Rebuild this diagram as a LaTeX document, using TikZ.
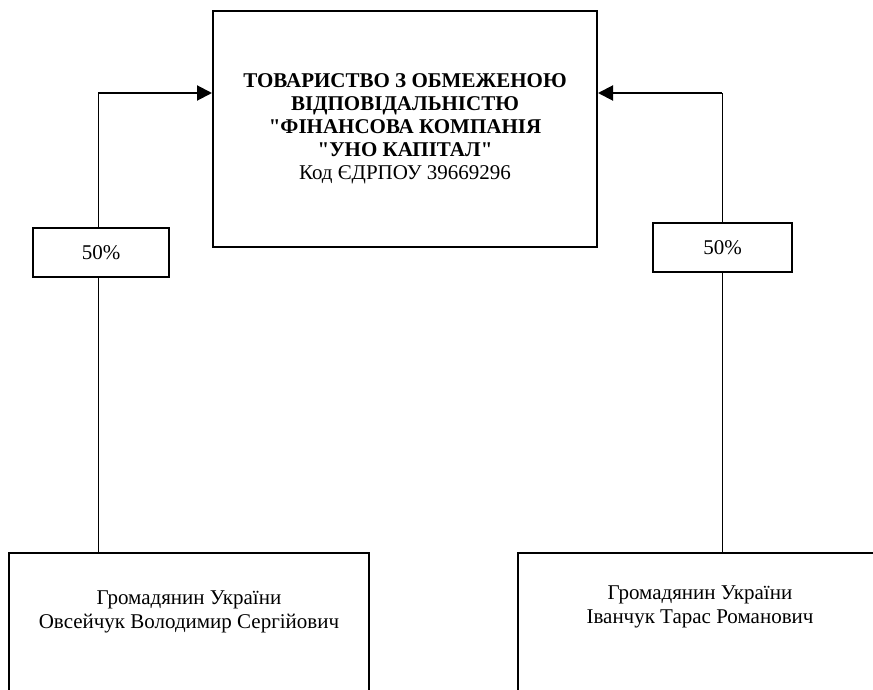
\documentclass[tikz,border=0pt]{standalone}
\usepackage{fontspec}
\setmainfont{Liberation Serif}[Ligatures=TeXOff]
\usetikzlibrary{arrows.meta}
\begin{document}
\begin{tikzpicture}[x=1pt,y=-1pt,
  box/.style={draw,line width=2pt,rectangle,inner sep=0pt,align=center,font=\fontsize{21}{24}\selectfont},
  conn/.style={line width=0.9pt},
  arr/.style={line width=2pt,-{Triangle[length=15pt,width=15pt]}}]
\useasboundingbox (0,0) rectangle (873,690);
\node[box,minimum width=384pt,minimum height=236pt,font=\fontsize{21}{23}\selectfont] (main) at (405,129)
  {\textbf{ТОВАРИСТВО З ОБМЕЖЕНОЮ}\\ \textbf{ВІДПОВІДАЛЬНІСТЮ}\\ \textbf{"ФІНАНСОВА КОМПАНІЯ}\\ \textbf{"УНО КАПІТАЛ"}\\ Код ЄДРПОУ 39669296\rule[-4pt]{0pt}{0pt}};
\node[box,minimum width=136pt,minimum height=49pt] (p1) at (101,252.5) {50\%};
\node[box,minimum width=139pt,minimum height=49pt] (p2) at (722.5,247.5) {50\%};
\node[box,anchor=north] (o1) at (189,552)
  {\parbox[c][180pt][t]{360pt}{\centering\rule{0pt}{51pt}Громадянин України\\Овсейчук Володимир Сергійович}};
\node[box,anchor=north] (o2) at (700,552)
  {\parbox[c][180pt][t]{364pt}{\centering\rule{0pt}{46pt}Громадянин України\\Іванчук Тарас Романович}};
\coordinate (c1) at (98,93);
\coordinate (c2) at (722,93);
\draw[conn] (o1.north -| c1) -- (p1.south -| c1);
\draw[conn] (p1.north -| c1) -- (c1);
\draw[arr] (c1) -- (main.west |- c1);
\draw[conn] (o2.north -| c2) -- (p2.south -| c2);
\draw[conn] (p2.north -| c2) -- (c2);
\draw[arr] (c2) -- (main.east |- c2);
\end{tikzpicture}
\end{document}
